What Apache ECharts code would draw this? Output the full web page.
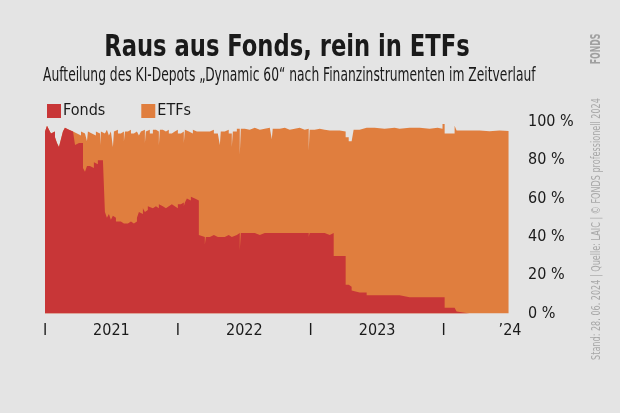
<!DOCTYPE html>
<html>
<head>
<meta charset="utf-8">
<script src="https://cdn.jsdelivr.net/npm/echarts@6/dist/echarts.min.js"></script>
<style>
html,body{margin:0;padding:0;background:#e4e4e4;}
#c{width:620px;height:413px;}
</style>
</head>
<body>
<div id="c"></div>
<script>
// Zeitpunkte (Jahr als Dezimalzahl)
const zeit = [
 2021.000,2021.015,2021.030,2021.045,2021.060,2021.075,2021.090,2021.105,2021.120,2021.135,
 2021.150,2021.165,2021.180,2021.195,2021.211,2021.226,2021.241,2021.256,2021.271,2021.286,
 2021.301,2021.316,2021.323,2021.338,2021.353,2021.368,2021.383,2021.398,2021.414,2021.421,
 2021.436,2021.451,2021.466,2021.481,2021.496,2021.511,2021.519,2021.534,2021.549,2021.571,
 2021.594,2021.602,2021.624,2021.647,2021.669,2021.692,2021.707,2021.722,2021.737,2021.752,
 2021.759,2021.774,2021.789,2021.812,2021.835,2021.857,2021.865,2021.887,2021.910,2021.932,
 2021.955,2021.977,2022.000,2022.023,2022.045,2022.053,2022.068,2022.083,2022.098,2022.113,
 2022.128,2022.143,2022.158,2022.173,2022.203,2022.211,2022.241,2022.271,2022.301,2022.316,
 2022.323,2022.353,2022.383,2022.406,2022.414,2022.444,2022.466,2022.474,2022.504,2022.541,
 2022.579,2022.617,2022.654,2022.692,2022.707,2022.714,2022.767,2022.805,2022.842,2022.880,
 2022.917,2022.955,2022.985,2022.992,2023.030,2023.068,2023.105,2023.143,2023.173,2023.218,
 2023.263,2023.286,2023.308,2023.323,2023.368,2023.421,2023.481,2023.556,2023.632,2023.669,
 2023.744,2023.820,2023.895,2023.955,2023.992,2024.008,2024.045,2024.083,2024.098,2024.113,
 2024.195,2024.271,2024.346,2024.421,2024.489
];
// Anteil Fonds in %
const fonds = [
 95,98,96,94,95,92,89,87,91,95,
 97,96,97,95,96,88,89,88,89,76,
 74,77,77,78,76,79,78,80,79,80,
 81,53,50,52,49,51,50,48,48,47,
 48,47,48,47,48,50,53,52,55,53,
 54,56,55,56,55,57,56,55,56,57,
 56,55,57,58,56,58,60,59,61,60,
 61,59,41,40,36,40,41,40,41,40,
 40,41,40,40,41,42,33,42,42,42,
 41,42,42,42,42,42,42,42,42,42,
 42,42,40,42,42,42,41,42,30,30,
 15,14,12,11,11,9.5,9.5,9.5,9.5,8.5,
 8.5,8.5,8.5,8.5,8.5,3,3,3,1,0,
 0,0,0,0,0
];
// Anteil ETFs in %
const etfs = [
 0,0,0,0,0,0,0,0,0,0,
 0,0,0,0,0,6,6,5,6,18,
 21,13,18,16,19,14,17,14,9,15,
 13,42,46,41,46,36,45,48,46,48,
 42,48,48,47,47,46,40,43,41,36,
 41,40,39,40,40,31,40,40,40,37,
 39,41,37,37,33,38,35,37,33,36,
 34,37,54,55,58,55,55,54,54,48,
 55,55,54,47,54,54.5,50,54.5,54,55,
 55,54.5,55,54,49,54.5,55,54,54.5,55,
 54,54.5,45,54,54.5,54,54.5,53.5,65.5,65,
 77,76,79,85,86,87.5,87,87.5,87,88.5,
 88.5,88,88.5,88,90.5,91,91,95,94.5,95.5,
 95.5,95.2,95.5,95.3,95.8
];
const serienNamen = ['Fonds', 'ETFs'];
const xLabels = ['I', '2021', 'I', '2022', 'I', '2023', 'I', '\u201924'];
const yLabels = ['0 %', '20 %', '40 %', '60 %', '80 %', '100 %'];

const RED = '#c83637';
const ORANGE = '#e07e3e';
const FONT = "'Liberation Sans Narrow','DejaVu Sans Condensed','Roboto',sans-serif";

const fondsData = zeit.map((t, i) => [t, fonds[i]]);
const gesamtData = zeit.map((t, i) => [t, fonds[i] + etfs[i]]);

const chart = echarts.init(document.getElementById('c'), null, {renderer: 'canvas'});
chart.setOption({
  backgroundColor: '#e4e4e4',
  animation: false,
  textStyle: {fontFamily: FONT},
  grid: {left: 45, right: 110, top: 122, bottom: 99.5, containLabel: false},
  legend: {
    left: 42, top: 98,
    icon: 'rect', itemWidth: 14, itemHeight: 14, itemGap: 36,
    data: serienNamen,
    textStyle: {fontFamily: FONT, fontSize: 16, color: '#1a1a1a', padding: [0, 0, 0, -3]},
    selectedMode: false
  },
  xAxis: {
    type: 'value', min: 2021, max: 2024.5, interval: 0.5,
    axisLine: {show: false}, axisTick: {show: false}, splitLine: {show: false},
    axisLabel: {
      show: true, margin: 9, fontSize: 16, color: '#1a1a1a', fontFamily: FONT,
      showMinLabel: true, showMaxLabel: true, hideOverlap: false,
      formatter: (v, i) => xLabels[i]
    }
  },
  yAxis: {
    type: 'value', position: 'right', min: 0, max: 100, interval: 20,
    axisLine: {show: false}, axisTick: {show: false}, splitLine: {show: false},
    axisLabel: {
      margin: 18, fontSize: 16, color: '#1a1a1a', fontFamily: FONT, align: 'left',
      formatter: (v, i) => yLabels[i]
    }
  },
  series: [
    {
      name: 'ETFs', type: 'line', step: 'end', data: gesamtData,
      symbol: 'none', showSymbol: false, lineStyle: {width: 0},
      areaStyle: {color: ORANGE, opacity: 1}, itemStyle: {color: ORANGE}, z: 2
    },
    {
      name: 'Fonds', type: 'line', step: 'end', data: fondsData,
      symbol: 'none', showSymbol: false, lineStyle: {width: 0},
      areaStyle: {color: RED, opacity: 1}, itemStyle: {color: RED}, z: 3
    }
  ],
  graphic: [
    {type: 'text', x: 287, y: 48, scaleX: 0.84, style: {text: 'Raus aus Fonds, rein in ETFs', x: 0, y: 0,
      align: 'center', verticalAlign: 'middle', font: "bold 30px " + FONT, fill: '#1a1a1a'}},
    {type: 'text', x: 43, y: 76, scaleX: 0.72, style: {text: 'Aufteilung des KI-Depots \u201EDynamic 60\u201C nach Finanzinstrumenten im Zeitverlauf', x: 0, y: 0,
      align: 'left', verticalAlign: 'middle', font: "19px " + FONT, fill: '#1a1a1a'}},
    {type: 'text', x: 597, y: 229, rotation: Math.PI / 2, scaleX: 0.75, style: {text: 'Stand: 28. 06. 2024 | Quelle: LAIC | \u00A9 FONDS professionell 2024', x: 0, y: 0,
      align: 'center', verticalAlign: 'middle', font: "12px " + FONT, fill: '#a8a8a8'}},
    {type: 'text', x: 596, y: 49, rotation: Math.PI / 2, scaleX: 0.62, style: {text: 'FONDS', x: 0, y: 0,
      align: 'center', verticalAlign: 'middle', font: "bold 14px " + FONT, fill: '#a0a0a0'}}
  ]
});
</script>
</body>
</html>
